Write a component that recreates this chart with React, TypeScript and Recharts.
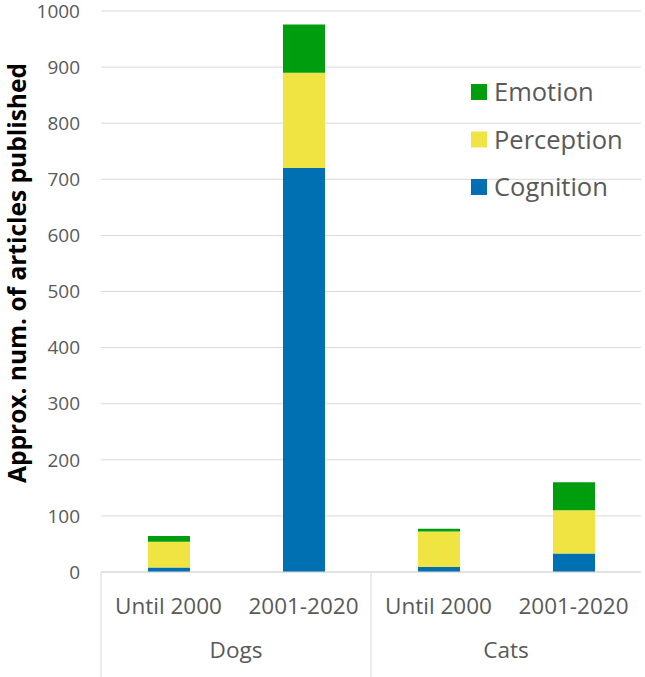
import React from 'react';
import { BarChart, Bar, XAxis, YAxis, CartesianGrid, Legend } from 'recharts';

const groups = ['Dogs', 'Cats'];
const periods = ['Until 2000', '2001-2020'];
const cognition = [8, 720, 9, 33];
const perception = [46, 170, 63, 77];
const emotion = [10, 86, 5, 50];
const yTicks = [0, 100, 200, 300, 400, 500, 600, 700, 800, 900, 1000];

const seriesNames = ['Cognition', 'Perception', 'Emotion'];
const seriesColors = ['#0070B2', '#F0E442', '#009E0F'];

const data = groups.flatMap((g, gi) =>
  periods.map((p, pi) => {
    const i = gi * periods.length + pi;
    return {
      id: `${g}|${p}`,
      group: g,
      period: p,
      Cognition: cognition[i],
      Perception: perception[i],
      Emotion: emotion[i],
    };
  })
);

const FONT = '"Open Sans", sans-serif';
const TEXT_GRAY = '#595959';
const LINE_GRAY = '#D9D9D9';

const W = 645;
const H = 677;
const MARGIN = { top: 11, right: 4, left: 0, bottom: 0 };
const Y_W = 101;
const PERIOD_H = 50;
const GROUP_H = 55;
const PLOT_W = W - MARGIN.left - MARGIN.right - Y_W;
const PERIOD_BAND = PLOT_W / data.length;

const PeriodTick = (props: any) => {
  const { x, y, payload } = props;
  const idx = data.findIndex((d) => d.id === payload.value);
  const entry = data[idx];
  return (
    <g>
      {idx % periods.length === 0 ? (
        <line
          x1={x - PERIOD_BAND / 2}
          x2={x - PERIOD_BAND / 2}
          y1={y}
          y2={y + PERIOD_H + GROUP_H}
          stroke={LINE_GRAY}
          strokeWidth={1}
        />
      ) : null}
      <text x={x} y={y + 42} textAnchor="middle" fill={TEXT_GRAY} fontSize={22.5} fontFamily={FONT}>
        {entry ? entry.period : ''}
      </text>
    </g>
  );
};

const GroupTick = (props: any) => {
  const { x, y, payload } = props;
  return (
    <text x={x} y={y + 35.5} textAnchor="middle" fill={TEXT_GRAY} fontSize={22.5} fontFamily={FONT}>
      {payload.value}
    </text>
  );
};

const YLabel = () => (
  <text
    x={0}
    y={0}
    transform="translate(26,273) rotate(-90)"
    textAnchor="middle"
    fill="#000000"
    fontSize={24.5}
    fontWeight="bold"
    fontFamily={FONT}
  >
    Approx. num. of articles published
  </text>
);

const LegendContent = () => {
  const items = seriesNames.map((n, i) => ({ name: n, color: seriesColors[i] })).reverse();
  return (
    <svg width={175} height={150} style={{ display: 'block', overflow: 'visible' }}>
      {items.map((item, i) => {
        const cy = 26 + i * 47.5;
        return (
          <g key={item.name}>
            <rect x={5} y={cy - 8} width={16} height={16} fill={item.color} />
            <text x={28} y={cy + 9.1} fill={TEXT_GRAY} fontSize={25.5} fontFamily={FONT}>
              {item.name}
            </text>
          </g>
        );
      })}
    </svg>
  );
};

export default function App() {
  return (
    <div style={{ position: 'absolute', left: 0, top: 0, width: W, height: H, background: '#ffffff' }}>
      <BarChart width={W} height={H} data={data} margin={MARGIN} barSize={42}>
        <CartesianGrid vertical={false} stroke={LINE_GRAY} strokeWidth={1} />
        <XAxis
          xAxisId={0}
          dataKey="id"
          height={PERIOD_H}
          interval={0}
          tickLine={false}
          tickSize={0}
          tickMargin={0}
          axisLine={{ stroke: LINE_GRAY }}
          tick={<PeriodTick />}
        />
        <XAxis
          xAxisId={1}
          dataKey="group"
          allowDuplicatedCategory={false}
          height={GROUP_H}
          interval={0}
          tickLine={false}
          tickSize={0}
          tickMargin={0}
          axisLine={false}
          tick={<GroupTick />}
        />
        <YAxis
          width={Y_W}
          domain={[0, 1000]}
          ticks={yTicks}
          interval={0}
          axisLine={false}
          tickLine={false}
          tickSize={0}
          tickMargin={21}
          tick={{ fill: TEXT_GRAY, fontSize: 19, fontFamily: FONT }}
          label={<YLabel />}
        />
        <Legend
          layout="horizontal"
          align="center"
          verticalAlign="middle"
          wrapperStyle={{ position: 'absolute', left: 466, top: 66, right: 'auto', bottom: 'auto', width: 175, height: 150 }}
          content={<LegendContent />}
        />
        {seriesNames.map((name, i) => (
          <Bar
            key={name}
            xAxisId={0}
            dataKey={name}
            name={name}
            stackId="a"
            fill={seriesColors[i]}
            isAnimationActive={false}
          />
        ))}
      </BarChart>
    </div>
  );
}
